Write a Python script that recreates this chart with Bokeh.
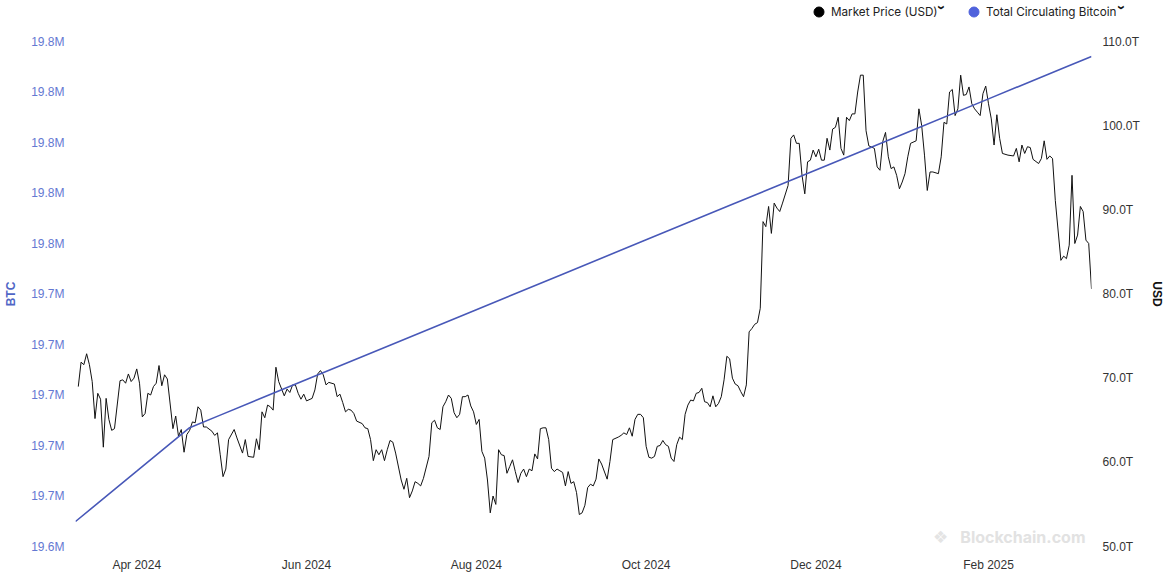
import math
import pandas as pd
from bokeh.plotting import figure
from bokeh.layouts import column
from bokeh.models import (Range1d, LinearAxis, FixedTicker, CustomJSTickFormatter,
                          DatetimeTickFormatter, Legend, LegendItem, Label)
from bokeh.embed import file_html
from bokeh.resources import INLINE

# ---------------- data ----------------
series_start = "2024-03-10"
series_end = "2025-03-10"

# Market price (USD), daily samples given as day offsets from series_start
price_day_offset = [
    1, 2, 3, 4, 5, 6, 7, 8, 9, 10, 11, 12, 13, 14, 16, 17, 18, 19, 20, 21, 22, 23, 24, 25,
    26, 27, 28, 29, 30, 31, 32, 33, 35, 36, 37, 38, 39, 40, 41, 42, 43, 44, 45, 46, 47, 49,
    50, 51, 52, 53, 54, 55, 57, 58, 60, 61, 62, 64, 65, 66, 67, 68, 69, 70, 71, 72,
    73, 75, 76, 77, 78, 79, 80, 81, 82, 83, 85, 86, 87, 88, 89, 90, 91, 93, 94, 95, 96, 97,
    98, 99, 100, 101, 103, 104, 105, 106, 107, 108, 109, 110, 111, 112, 113, 114, 115, 117,
    118, 119, 120, 121, 122, 123, 124, 125, 127, 128, 129, 130, 131, 132, 133, 134, 135, 136,
    137, 138,
    139, 140, 141, 142, 143, 144, 145, 146, 147, 148, 149, 150, 151, 152, 153, 154, 155, 156,
    157, 158, 159, 160, 161, 162, 163, 164, 165, 166, 167, 168, 169, 170, 171, 172, 173, 174,
    175, 176, 177, 178, 179, 180, 181, 182, 183, 184, 185, 186, 187, 188, 189, 191, 192, 193,
    195, 196, 197, 198, 199, 200, 201, 202, 203, 204, 205, 206,
    207, 208, 209, 210, 211, 212, 213, 214, 215, 216, 217, 218, 219, 220, 221, 222, 223, 224,
    225, 226, 227, 228, 229, 230, 231, 232, 233, 234, 235, 236, 237, 238, 239, 240, 241, 242,
    243, 244, 245, 246, 247, 248, 249, 250, 251, 252, 253, 254, 256, 257, 258, 259, 260, 261,
    262, 263, 264, 265, 266, 267, 268, 269, 270, 271, 272, 273, 274, 275, 276, 277, 278, 279,
    280, 281, 282, 283, 284, 285, 287, 288, 289, 290, 291, 292, 293, 294, 295, 296, 297, 298,
    299, 300, 302, 303, 304, 305, 306, 307, 308, 310, 311, 312, 313, 314, 315, 316, 317, 318,
    319, 320, 321, 322, 323, 324, 325, 326, 327, 328, 329, 330, 331, 332, 333, 335, 337, 338,
    339, 340, 341, 342, 343, 344, 346, 347, 348, 349, 350, 351, 352, 354, 355, 356, 357, 358,
    359, 360, 361, 362, 363, 364, 365,
]
price_usd = [
    69000, 71900, 71600, 72900, 71600, 69600, 65200, 68200, 67500, 61800, 67600, 65100, 63800,
    64000, 69700, 69800, 69400, 70500, 69600, 70000, 71100, 69400, 65400, 65800, 68200, 68000,
    69000, 69400, 71500, 69100, 70400, 69900, 64000, 65500, 63100, 63900, 61200, 63300, 63800,
    64800, 64700, 66600, 66200, 64200, 64200, 63700, 63200, 63500, 60900, 58300, 59200, 62700,
    63900, 62900, 61100, 62700, 60700, 60600, 62800, 61500, 66000, 65300, 66800, 66600, 66200,
    71300,
    69600, 67900, 68700, 68300, 69200, 69200, 68200, 67500, 68100, 67300, 67600, 68600, 70500,
    70900, 70400, 69200, 69500, 69300, 67800, 68100, 67100, 66000, 66300, 66200, 65800, 64900,
    64600, 64100, 64000, 62700, 60200, 61500, 60900, 61500, 60200, 61500, 62600, 62400, 61100,
    57900, 56800, 58100, 55800, 56600, 57700, 57500, 57200, 58100, 60700, 64700, 65000, 64100,
    63900, 66600, 67200, 68000, 67600, 65900, 65300, 65700,
    67800, 67800, 68000, 66700, 66000, 64500, 65100, 61300, 60500, 57900, 54000, 56000, 55000,
    61500, 60900, 60800, 58700, 59500, 60300, 58900, 57600, 58700, 59200, 58300, 59200, 59000,
    61000, 60400, 64000, 64100, 64100, 62700, 59300, 58900, 59200, 59000, 58800, 57200, 58900,
    57500, 57700, 56400, 53800, 54000, 54900, 57000, 57400, 57200, 58000, 60400, 59800, 58000,
    60100, 62700, 63000, 63200, 63500, 63300, 64100, 63100, 65100, 65700, 65700, 65300, 61900,
    60600,
    60500, 60700, 61900, 62000, 62600, 62100, 61900, 60500, 60100, 62100, 63000, 62700, 65700,
    66800, 67400, 67300, 68200, 68300, 68800, 67200, 67100, 66600, 67900, 66600, 67000, 67800,
    69800, 72600, 72300, 70000, 69300, 69100, 68400, 67800, 69200, 75500, 75900, 76400, 76600,
    78300, 88600, 88000, 90400, 87200, 90800, 90200, 89800, 90800, 92900, 98500, 98900, 97900,
    97900, 94100, 91900, 95700, 95900, 97100, 96300, 97200, 95900, 95900, 98500, 97100, 99600,
    99800, 101000, 97300, 96500, 101000, 100600, 101400, 101400, 104000, 106000, 106000, 99400,
    97600, 97300, 95100, 94700, 98100, 99200, 96300, 94900, 95100, 94100, 92500, 93300, 94300,
    96300, 97900, 98200, 102000, 100000, 96500, 92300, 94500, 94500, 94300, 96300, 100400,
    100200, 104000, 104300, 101200, 102000, 106000, 103600, 103700, 104600, 102600, 102000,
    101600, 101200, 103800, 104700, 102600, 100800, 97700, 101300, 98500, 96700, 96500, 96400,
    97300, 95700, 97700, 96700, 97500, 97400, 96000, 95500, 96100, 98200, 96000, 96400, 96100,
    91100, 84000, 84500, 84200, 85800, 94100, 86000, 87000, 90400, 89800, 86400, 86000, 80600,
]

# Total circulating bitcoin (BTC)
supply_dates = [
    "2024-03-10", "2024-04-01", "2024-04-20", "2024-05-01", "2024-06-01", "2024-07-01",
    "2024-08-01", "2024-09-01", "2024-10-01", "2024-11-01", "2024-12-01", "2025-01-01",
    "2025-02-01", "2025-03-01", "2025-03-10",
]
supply_btc = [
    19649900, 19669810, 19687040, 19692030, 19706100, 19719710,
    19733780, 19747850, 19761460, 19775530, 19789150, 19803210,
    19817280, 19829990, 19834070,
]

# axes
btc_ticks = [19640000, 19660000, 19680000, 19700000, 19720000, 19740000,
             19760000, 19780000, 19800000, 19820000, 19840000]
usd_ticks = [50000, 60000, 70000, 80000, 90000, 100000, 110000]
x_tick_dates = ["2024-04-01", "2024-06-01", "2024-08-01", "2024-10-01",
                "2024-12-01", "2025-02-01"]

legend_labels = ["Market Price (USD)", "Total Circulating Bitcoin"]
legend_colors = ["#000000", "#4f62dc"]
price_color = "#111111"
supply_color = "#4858b8"

# ---------------- legend strip (its own small svg figure) ----------------
LEG_H = 32
lg = figure(width=1166, height=LEG_H, x_range=Range1d(0, 1), y_range=Range1d(0, 1),
            x_axis_location=None, y_axis_location=None, output_backend="svg",
            toolbar_location=None, min_border=0, min_border_left=0, min_border_right=0,
            min_border_top=0, min_border_bottom=0)
if "frame_align" in lg.properties():
    lg.frame_align = False
lg.outline_line_color = None
lg.grid.visible = False
lg.border_fill_color = "white"
lg.background_fill_color = "white"

NAN = float("nan")
for lab, col, lx, chev_x in zip(legend_labels, legend_colors, (806, 961), (942, 1122)):
    # swatch-only renderer: its single point is NaN, so nothing is drawn in the strip itself
    dot = lg.scatter(x=[NAN], y=[NAN], marker="circle", fill_color=col, line_color=col)
    lg.add_layout(Legend(items=[LegendItem(label=lab, renderers=[dot])],
                         location=(lx, LEG_H - 24), glyph_width=25, glyph_height=25,
                         label_height=25, label_standoff=-3, padding=0, margin=0,
                         border_line_color=None, background_fill_alpha=0,
                         label_text_font="Inter", label_text_font_size="11.7px",
                         label_text_color="#222222"))
    lg.add_layout(Label(x=chev_x, y=LEG_H - 7, x_units="screen", y_units="screen", text="›",
                        angle=-math.pi / 2, text_font="Liberation Sans",
                        text_font_style="bold", text_font_size="15px", text_color="#111111",
                        text_baseline="middle", text_align="center"))

# ---------------- main chart ----------------
start = pd.Timestamp(series_start)
end = pd.Timestamp(series_end)
price_dates = start + pd.to_timedelta(price_day_offset, unit="D")
supply_x = pd.to_datetime(supply_dates)

p = figure(width=1166, height=574 - LEG_H, x_axis_type="datetime",
           x_range=Range1d(start.to_pydatetime(), end.to_pydatetime()),
           y_range=Range1d(btc_ticks[0], btc_ticks[-1]),
           output_backend="svg", toolbar_location=None,
           min_border_left=75, min_border_right=75, min_border_top=41 - LEG_H,
           min_border_bottom=27)
if "frame_align" in p.properties():
    p.frame_align = False
p.outline_line_color = None
p.background_fill_color = "white"
p.border_fill_color = "white"
p.grid.visible = False
p.extra_y_ranges = {"usd": Range1d(usd_ticks[0], usd_ticks[-1])}

TICK_FONT = "Liberation Sans"


def strip(ax):
    ax.axis_line_color = None
    ax.major_tick_line_color = None
    ax.minor_tick_line_color = None
    ax.major_tick_out = 0
    ax.major_tick_in = 0
    ax.minor_tick_out = 0
    ax.minor_tick_in = 0


# x axis
xa = p.xaxis[0]
xa.ticker = FixedTicker(ticks=[pd.Timestamp(d).value // 10**6 for d in x_tick_dates])
fmt = "%b %Y"
xa.formatter = DatetimeTickFormatter(milliseconds=fmt, seconds=fmt, minsec=fmt, minutes=fmt,
                                     hourmin=fmt, hours=fmt, days=fmt, months=fmt, years=fmt)
strip(xa)
xa.major_label_text_font = TICK_FONT
xa.major_label_text_font_size = "12px"
xa.major_label_text_color = "#333333"
xa.major_label_standoff = 11

# left axis (BTC)
ya = p.yaxis[0]
ya.ticker = FixedTicker(ticks=btc_ticks)
ya.formatter = CustomJSTickFormatter(code="return (tick/1e6).toFixed(1) + 'M';")
ya.axis_label = "BTC"
ya.axis_label_text_font = TICK_FONT
ya.axis_label_text_font_style = "bold"
ya.axis_label_text_font_size = "12px"
ya.axis_label_text_color = "#5066c6"
ya.axis_label_standoff = 10
strip(ya)
ya.major_label_text_font = TICK_FONT
ya.major_label_text_font_size = "12px"
ya.major_label_text_color = "#6478d2"
ya.major_label_standoff = 11

# right axis (USD)
ra = LinearAxis(y_range_name="usd", ticker=FixedTicker(ticks=usd_ticks),
                formatter=CustomJSTickFormatter(code="return (tick/1000).toFixed(1) + 'T';"))
ra.axis_label = "USD"
ra.axis_label_text_font = TICK_FONT
ra.axis_label_text_font_style = "bold"
ra.axis_label_text_font_size = "12px"
ra.axis_label_text_color = "#111111"
ra.axis_label_standoff = 7
strip(ra)
ra.major_label_text_font = TICK_FONT
ra.major_label_text_font_size = "12px"
ra.major_label_text_color = "#333333"
ra.major_label_standoff = 11
p.add_layout(ra, "right")

# watermark (inside the frame, bottom right)
p.add_layout(Label(x=865, y=10, x_units="screen", y_units="screen", text="❖",
                   text_font="DejaVu Sans", text_font_size="17px", text_color="#e4e4e4",
                   text_baseline="middle", text_align="center"))
p.add_layout(Label(x=1010, y=10, x_units="screen", y_units="screen", text="Blockchain.com",
                   text_font="Inter", text_font_style="bold", text_font_size="16px",
                   text_color="#e2e2e2", text_baseline="middle", text_align="right"))

# series
p.line(price_dates, price_usd, y_range_name="usd", line_color=price_color, line_width=1)
p.line(supply_x, supply_btc, line_color=supply_color, line_width=1.6)

layout = column(lg, p, spacing=0)
open("out.html", "w").write(file_html(layout, INLINE))
